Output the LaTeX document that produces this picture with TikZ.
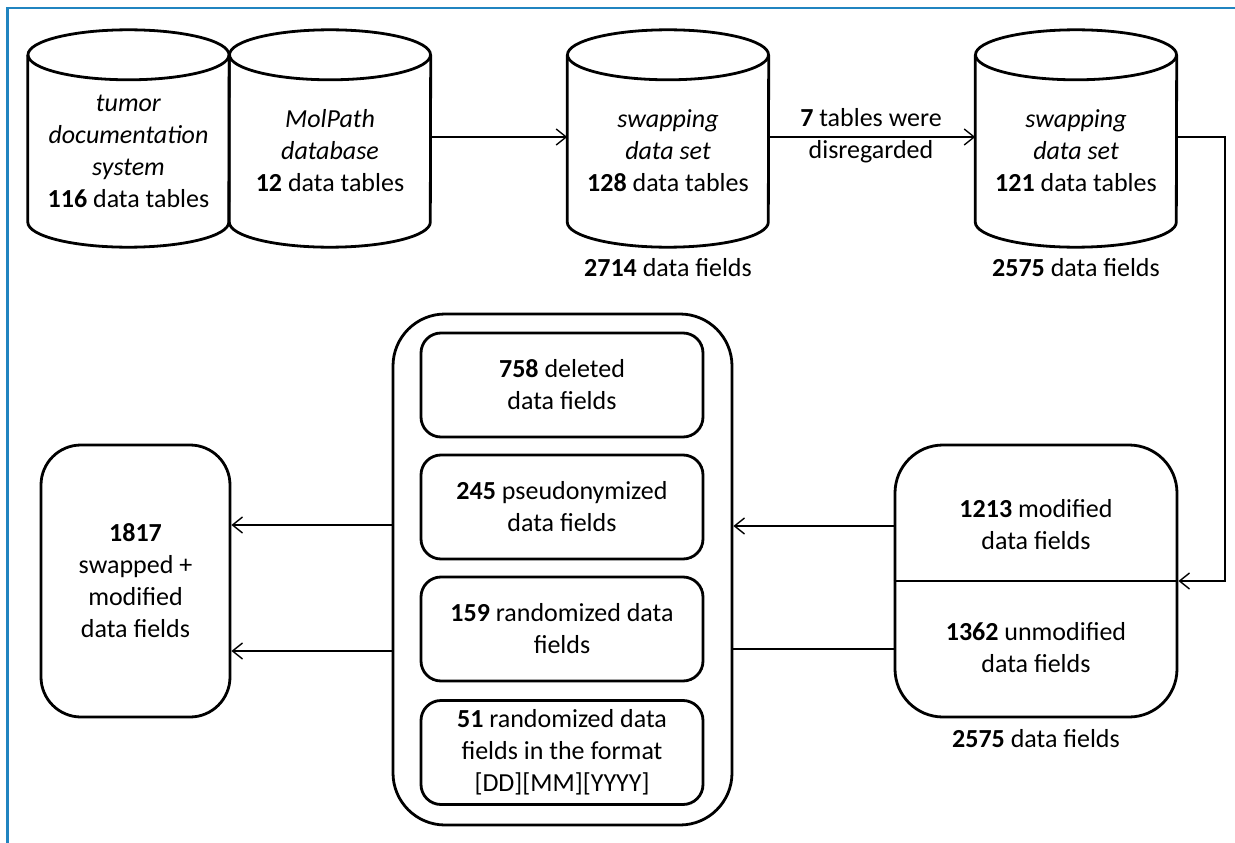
\documentclass[tikz,border=0pt]{standalone}
\usepackage{fontspec}
\setmainfont{Carlito}
\usetikzlibrary{arrows.meta}
\definecolor{frameblue}{RGB}{32,132,192}
\newcommand\drawcylinder[1]{%
  \draw[shapeline] (#1.north west) -- ([yshift=25pt]#1.south west)
    arc[start angle=180, end angle=360, x radius=100.5pt, y radius=25pt]
    -- (#1.north east);
  \draw[shapeline] (#1.north) ellipse [x radius=100.5pt, y radius=25pt];
}
\begin{document}
\begin{tikzpicture}[x=1pt,y=-1pt,
  font=\fontsize{26}{32}\selectfont,
  shapeline/.style={line width=2.8pt, black},
  cylbody/.style={minimum width=201pt, minimum height=192pt, inner sep=0pt, align=center},
  txt/.style={inner sep=0pt, align=center},
  bigbox/.style={draw, line width=2.8pt, rounded corners=40pt, inner sep=0pt, align=center},
  innerbox/.style={draw, line width=2.8pt, rounded corners=20pt, minimum width=282pt, minimum height=104pt, inner sep=0pt, align=center},
  conn/.style={line width=1.4pt, black},
  arr/.style={conn, -{Straight Barb[length=10pt, width=16pt, line width=1.4pt]}}
]
\useasboundingbox (0,0) rectangle (1235,843);
\fill[white] (0,0) rectangle (1235,843);
\draw[frameblue, line width=2.6pt] (7.5,843) -- (7.5,8) -- (1235,8);

% cylinders
\node[cylbody] (c1) at (128.5,151) {\textit{tumor}\\\textit{documentation}\\\textit{system}\\\textbf{116} data tables};
\node[cylbody] (c2) at (330,151) {\textit{MolPath}\\\textit{database}\\\textbf{12} data tables};
\node[cylbody] (c3) at (668,151) {\textit{swapping}\\\textit{data set}\\\textbf{128} data tables};
\node[cylbody] (c4) at (1076,151) {\textit{swapping}\\\textit{data set}\\\textbf{121} data tables};
\drawcylinder{c1}
\drawcylinder{c2}
\drawcylinder{c3}
\drawcylinder{c4}

\node[txt] (f3) at (668,268) {\textbf{2714} data fields};
\node[txt] (f4) at (1076,268) {\textbf{2575} data fields};

% top arrows
\draw[arr] (c2.east |- 0,137) -- (c3.west |- 0,137);
\draw[arr] (c3.east |- 0,137) -- (c4.west |- 0,137);
\node[txt] (lbl) at (871,136) {\textbf{7} tables were\\disregarded};

% right box
\node[bigbox, rounded corners=48pt, minimum width=282pt, minimum height=272pt] (rb) at (1036,581) {};
\draw[shapeline] (rb.west) -- (rb.east);
\node[txt] (rbu) at (1036,525) {\textbf{1213} modified\\data fields};
\node[txt] (rbl) at (1036,648) {\textbf{1362} unmodified\\data fields};
\node[txt] (f5) at (1036,739) {\textbf{2575} data fields};

\coordinate (turn1) at (1225,137);
\coordinate (turn2) at (1225,581);
\draw[arr] (c4.east |- turn1) -- (turn1) -- (turn2) -- (rb.east);

% middle box
\node[bigbox, rounded corners=52pt, minimum width=339pt, minimum height=511pt] (mb) at (562.5,569.5) {};
\node[innerbox] (b1) at (562,385) {\textbf{758} deleted\\data fields};
\node[innerbox] (b2) at (562,507) {\textbf{245} pseudonymized\\data fields};
\node[innerbox] (b3) at (562,629) {\textbf{159} randomized data\\fields};
\node[innerbox] (b4) at (562,752.5) {\textbf{51} randomized data\\fields in the format\\{[}DD{]}{[}MM{]}{[}YYYY{]}};

% left box
\node[bigbox, minimum width=189pt, minimum height=272pt] (lb) at (135.5,581) {\textbf{1817}\\swapped +\\modified\\data fields};

% lower connectors
\draw[arr] (rb.west |- 0,526) -- (mb.east |- 0,526);
\draw[conn] (rb.west |- 0,649) -- (mb.east |- 0,649);
\draw[arr] (mb.west |- 0,525) -- (lb.east |- 0,525);
\draw[arr] (mb.west |- 0,651) -- (lb.east |- 0,651);
\end{tikzpicture}
\end{document}
